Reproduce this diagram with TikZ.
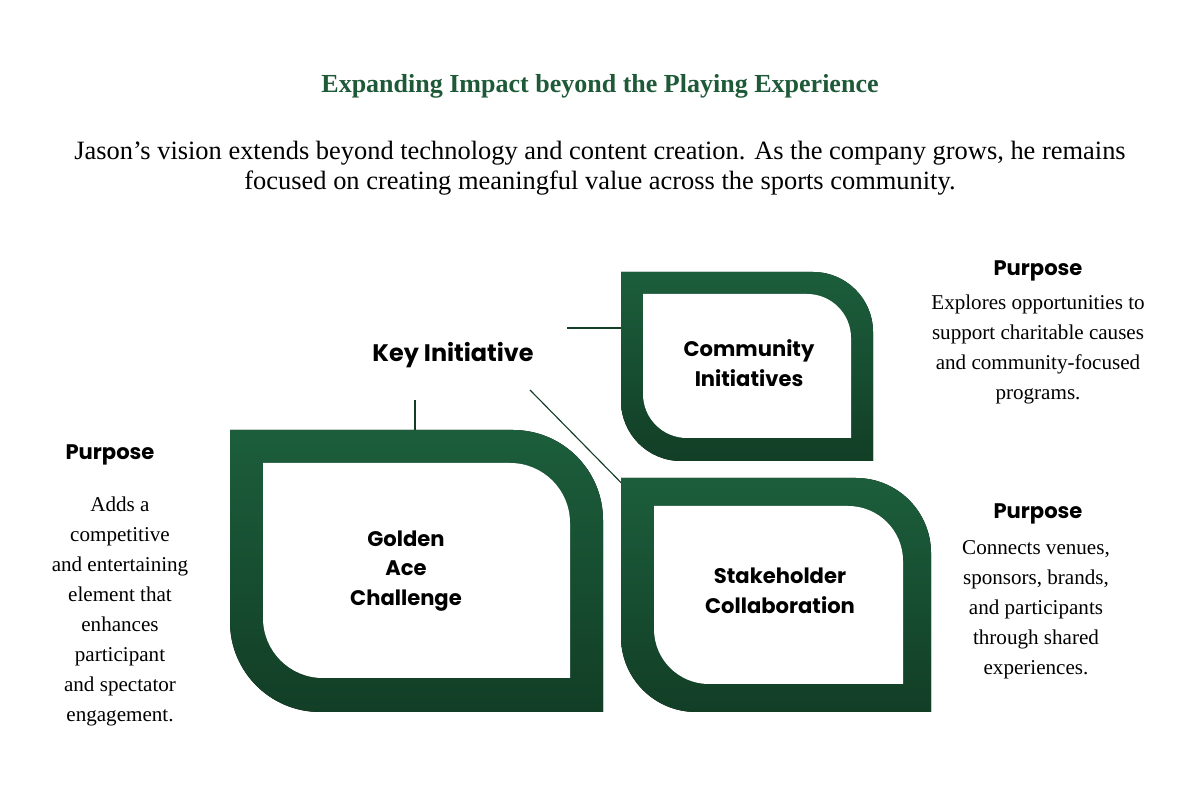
\documentclass[tikz,border=0pt]{standalone}
\usepackage{fontspec}
\setmainfont{Liberation Serif}
\newfontfamily\popfont{Poppins}
\usetikzlibrary{positioning}
\definecolor{forest}{RGB}{28, 94, 60}
\definecolor{deepforest}{RGB}{18, 62, 38}
\definecolor{titlegreen}{RGB}{30, 90, 55}
\tikzset{
  frame/.style={top color=forest, bottom color=deepforest, draw=none},
  hole/.style={fill=white, draw=none},
  boxlabel/.style={font=\popfont\fontsize{15}{21}\selectfont\bfseries, align=center, text=black},
  purpose/.style={font=\popfont\fontsize{15}{20}\selectfont\bfseries, text=black},
  sidetext/.style={font=\fontsize{15}{21.3}\selectfont, align=center, text=black},
  link/.style={draw=deepforest, thick}
}
\begin{document}
\begin{tikzpicture}[x=0.025cm, y=0.025cm]
  \useasboundingbox (0,0) rectangle (1200,800);
  % connectors
  \coordinate (ka) at (567,472);
  \coordinate (kb) at (415,400);
  \coordinate (kc) at (530,410);
  \draw[link] (ka) -- (623,472);
  \draw[link] (kb) -- (415,368);
  \draw[link] (kc) -- (643,295);
  % frames
  \fill[frame] (230,370) -- (513,370) arc(90:0:90) -- (603,88) -- (320,88) arc(270:180:90) -- cycle;
  \fill[hole]  (263,337) -- (510,337) arc(90:0:60) -- (570,122) -- (323,122) arc(270:180:60) -- cycle;
  \fill[frame] (621,528) -- (813,528) arc(90:0:60) -- (873,339) -- (681,339) arc(270:180:60) -- cycle;
  \fill[hole]  (643,506) -- (807,506) arc(90:0:44) -- (851,362) -- (687,362) arc(270:180:44) -- cycle;
  \fill[frame] (621,322) -- (856,322) arc(90:0:75) -- (931,88) -- (696,88) arc(270:180:75) -- cycle;
  \fill[hole]  (654,294) -- (848,294) arc(90:0:55) -- (903,116) -- (709,116) arc(270:180:55) -- cycle;
  % titles
  \node[font=\fontsize{18.5}{22}\selectfont\bfseries, text=titlegreen] (title) at (600,714) {Expanding Impact beyond the Playing Experience};
  \node[sidetext, font=\fontsize{18.8}{21.5}\selectfont] (intro) at (600,632) {Jason{\char"27}s vision extends beyond technology and content creation. As the company grows, he remains\\focused on creating meaningful value across the sports community.};
  % box labels
  \node[boxlabel] (golden) at (406,229) {Golden\\Ace\\Challenge};
  \node[boxlabel] (community) at (749,437) {Community\\Initiatives};
  \node[boxlabel] (stake) at (780,209) {Stakeholder\\Collaboration};
  \node[font=\popfont\fontsize{17}{21}\selectfont\bfseries] (key) at (453,445) {Key Initiative};
  % purposes
  \node[purpose] (p1) at (110,345) {Purpose};
  \node[sidetext, anchor=north] (t1) at (120,308) {Adds a\\competitive\\and entertaining\\element that\\enhances\\participant\\and spectator\\engagement.};
  \node[purpose] (p2) at (1038,529) {Purpose};
  \node[sidetext, anchor=north] (t2) at (1038,510) {Explores opportunities to\\support charitable causes\\and community-focused\\programs.};
  \node[purpose] (p3) at (1038,286) {Purpose};
  \node[sidetext, anchor=north] (t3) at (1036,264) {Connects venues,\\sponsors, brands,\\and participants\\through shared\\experiences.};
\end{tikzpicture}
\end{document}
